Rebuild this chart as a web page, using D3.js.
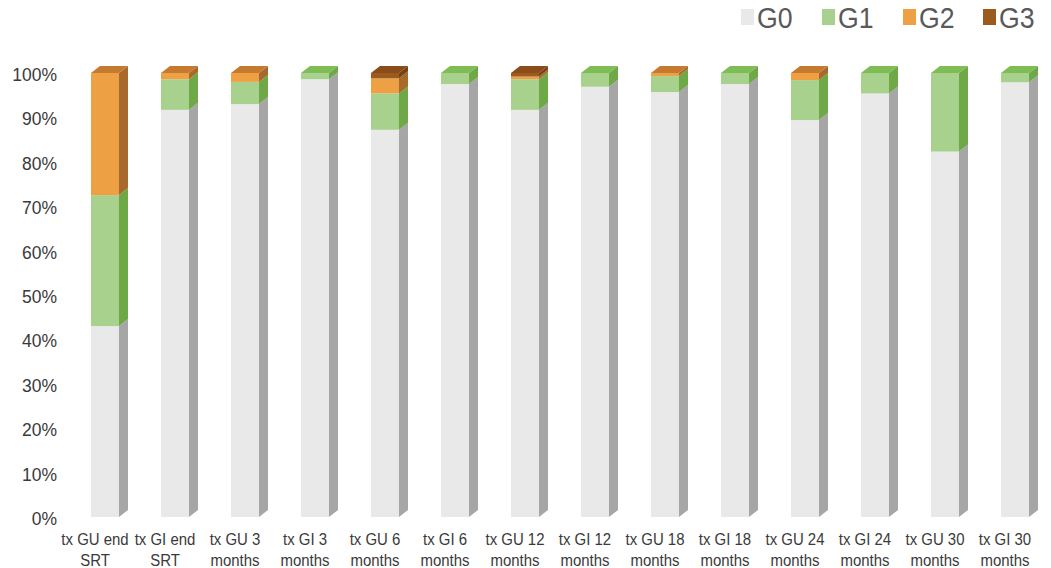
<!DOCTYPE html>
<html>
  <head>
    <meta charset="UTF-8">
    <script src="https://cdn.jsdelivr.net/npm/d3@7"></script>
    <style>
      body { margin: 0; background: #fff; }
    </style>
  </head>
  <body>
    <svg id="chart" width="1051" height="568"></svg>
    <script type="text/javascript">
      // categories and series (percent)
      var categories = ["tx GU end SRT", "tx GI end SRT", "tx GU 3 months", "tx GI 3 months",
        "tx GU 6 months", "tx GI 6 months", "tx GU 12 months", "tx GI 12 months",
        "tx GU 18 months", "tx GI 18 months", "tx GU 24 months", "tx GI 24 months",
        "tx GU 30 months", "tx GI 30 months"];
      var seriesNames = ["G0", "G1", "G2", "G3"];
      var G0 = [43, 91.7, 93, 98.6, 87.2, 97.5, 91.7, 96.9, 95.7, 97.5, 89.4, 95.4, 82.3, 97.9];
      var G1 = [29.5, 6.9, 5, 1.4, 8.2, 2.5, 6.9, 3.1, 3.6, 2.5, 9, 4.6, 17.7, 2.1];
      var G2 = [27.5, 1.4, 2, 0, 3.4, 0, 0.6, 0, 0.7, 0, 1.6, 0, 0, 0];
      var G3 = [0, 0, 0, 0, 1.2, 0, 0.8, 0, 0, 0, 0, 0, 0, 0];
      var yTicks = [0, 10, 20, 30, 40, 50, 60, 70, 80, 90, 100];

      // front / side / top colours per series
      var colors = {
        G0: { front: "#e9e9e9", side: "#a6a6a6", top: "#d6d6d6" },
        G1: { front: "#a9d18e", side: "#6ea847", top: "#7dbd53" },
        G2: { front: "#eea044", side: "#a8692c", top: "#c57a30" },
        G3: { front: "#9c5a1f", side: "#784214", top: "#8a4c18" }
      };

      var rows = categories.map(function(c, i) {
        return { cat: c, G0: G0[i], G1: G1[i], G2: G2[i], G3: G3[i] };
      });

      var svg = d3.select("#chart");
      var x = d3.scaleBand().domain(categories).range([70, 1050]);
      var y = d3.scaleLinear().domain([0, 100]).range([517, 73]);
      var barW = 28, off = 21, dx = 9, dy = -7;

      var stack = d3.stack().keys(seriesNames)(rows);

      // y axis labels
      svg.append("g").selectAll("text").data(yTicks).enter().append("text")
        .attr("transform", function(d) { return "translate(57," + (y(d) + 3) + ") scale(1,1.08)"; })
        .attr("text-anchor", "end")
        .attr("dominant-baseline", "middle")
        .attr("font-family", "Liberation Sans, Arial, sans-serif")
        .attr("font-size", 17.5)
        .attr("fill", "#3a3a3a")
        .text(function(d) { return d + "%"; });

      // bars
      var bars = svg.append("g");
      stack.forEach(function(layer) {
        var col = colors[layer.key];
        layer.forEach(function(seg, i) {
          if (seg[1] - seg[0] <= 0) return;
          var x0 = x(categories[i]) + off, x1 = x0 + barW;
          var yb = y(seg[0]), yt = y(seg[1]);
          bars.append("rect")
            .attr("x", x0).attr("y", yt)
            .attr("width", barW).attr("height", yb - yt)
            .attr("fill", col.front);
          bars.append("path")
            .attr("d", "M" + x1 + "," + yt + "L" + (x1 + dx) + "," + (yt + dy) +
              "L" + (x1 + dx) + "," + (yb + dy) + "L" + x1 + "," + yb + "Z")
            .attr("fill", col.side);
          // top face only on the highest segment
          var higher = seriesNames.slice(seriesNames.indexOf(layer.key) + 1)
            .some(function(k) { return rows[i][k] > 0; });
          if (!higher) {
            bars.append("path")
              .attr("d", "M" + x0 + "," + yt + "L" + (x0 + dx) + "," + (yt + dy) +
                "L" + (x1 + dx) + "," + (yt + dy) + "L" + x1 + "," + yt + "Z")
              .attr("fill", col.top);
          }
        });
      });

      // category labels (two lines, a little taller than wide like the original)
      var labels = svg.append("g").selectAll("g").data(categories).enter().append("g")
        .attr("transform", function(d) { return "translate(" + (x(d) + 25) + ",0)"; });
      labels.each(function(d) {
        var k = d.lastIndexOf(" ");
        var g = d3.select(this);
        [d.slice(0, k), d.slice(k + 1)].forEach(function(line, j) {
          g.append("text")
            .attr("transform", "translate(0," + (545 + j * 21) + ") scale(0.88,1)")
            .attr("text-anchor", "middle")
            .attr("font-family", "Liberation Sans, Arial, sans-serif")
            .attr("font-size", 17)
            .attr("fill", "#3a3a3a")
            .text(line);
        });
      });

      // legend
      var legX = [741, 822, 903, 983];
      var leg = svg.append("g").selectAll("g").data(seriesNames).enter().append("g")
        .attr("transform", function(d, i) { return "translate(" + legX[i] + ",0)"; });
      leg.append("rect")
        .attr("x", 0).attr("y", 9).attr("width", 13).attr("height", 16)
        .attr("fill", function(d) { return colors[d].front; });
      leg.append("text")
        .attr("transform", "translate(16,28) scale(0.92,1)")
        .attr("font-family", "Liberation Sans, Arial, sans-serif")
        .attr("font-size", 29)
        .attr("fill", "#595959")
        .text(function(d) { return d; });
    </script>
  </body>
</html>
